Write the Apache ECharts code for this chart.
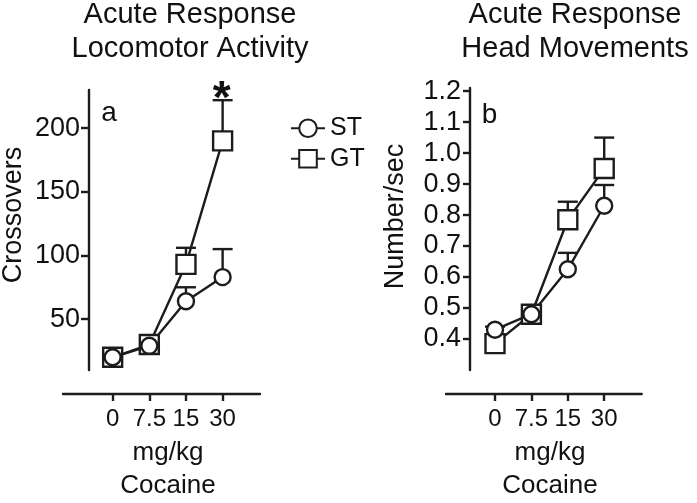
<!DOCTYPE html>
<html>
<head>
<meta charset="utf-8">
<script src="https://cdn.jsdelivr.net/npm/echarts@6/dist/echarts.min.js"></script>
<style>
html,body{margin:0;padding:0;background:#fff;}
#chart{width:697px;height:503px;}
</style>
</head>
<body>
<div id="chart"></div>
<script>
// ---- data ----
var doseLabels = ['0', '7.5', '15', '30'];
var leftST = [20, 29, 64, 83];
var leftST_sem = [3, 3, 11, 22];
var leftGT = [20, 30, 93, 190];
var leftGT_sem = [3, 3, 13, 32];
var rightST = [0.43, 0.48, 0.625, 0.83];
var rightST_sem = [0.01, 0.01, 0.053, 0.067];
var rightGT = [0.385, 0.48, 0.785, 0.95];
var rightGT_sem = [0.01, 0.01, 0.058, 0.10];
var leftYTicks = [50, 100, 150, 200];
var rightYTicks = [0.4, 0.5, 0.6, 0.7, 0.8, 0.9, 1.0, 1.1, 1.2];
var xTickIdx = [0, 1, 2, 3];

var INK = '#1c1c1c';
var FONT = "'Liberation Sans', Arial, Helvetica, sans-serif";
var LW = 2.4;

function pts(vals) { return vals.map(function (v, i) { return [i, v]; }); }
function errPts(vals, sem) { return vals.map(function (v, i) { return [i, v, v + sem[i]]; }); }

function errorRender(params, api) {
  var x = api.value(0), y = api.value(1), t = api.value(2);
  var p0 = api.coord([x, y]);
  var p1 = api.coord([x, t]);
  var hw = 10;
  return {
    type: 'group',
    children: [
      { type: 'line', shape: { x1: p0[0], y1: p0[1], x2: p1[0], y2: p1[1] }, style: { stroke: INK, lineWidth: LW } },
      { type: 'line', shape: { x1: p1[0] - hw, y1: p1[1], x2: p1[0] + hw, y2: p1[1] }, style: { stroke: INK, lineWidth: LW } }
    ]
  };
}

function lineSeries(name, sym, size, vals, idx) {
  return {
    type: 'line', name: name, xAxisIndex: idx, yAxisIndex: idx,
    data: pts(vals), symbol: sym, symbolSize: size, showSymbol: true,
    lineStyle: { color: INK, width: LW },
    itemStyle: { color: '#fff', borderColor: INK, borderWidth: LW },
    emphasis: { disabled: true }, z: 3
  };
}
function errSeries(name, vals, sem, idx) {
  return {
    type: 'custom', name: name, xAxisIndex: idx, yAxisIndex: idx,
    data: errPts(vals, sem), renderItem: errorRender, z: 1, silent: true
  };
}

var xAxisCommon = function (gi, min, max) {
  return {
    type: 'value', gridIndex: gi, min: min, max: max, offset: 24,
    axisLine: { show: true, onZero: false, lineStyle: { color: INK, width: LW } },
    axisTick: { show: true, customValues: xTickIdx, length: 7, lineStyle: { color: INK, width: LW } },
    axisLabel: { show: true, customValues: xTickIdx, margin: 13, fontSize: 24, color: '#111', fontFamily: FONT,
      formatter: function (v) { return doseLabels[Math.round(v)]; } },
    splitLine: { show: false }
  };
};
var yAxisCommon = function (gi, min, max, ticks, off, tickLen, fmt) {
  return {
    type: 'value', gridIndex: gi, min: min, max: max, offset: off,
    axisLine: { show: true, onZero: false, lineStyle: { color: INK, width: LW } },
    axisTick: { show: true, customValues: ticks, length: tickLen, lineStyle: { color: INK, width: LW } },
    axisLabel: { show: true, customValues: ticks, margin: 9, fontSize: 27, color: '#111', fontFamily: FONT, formatter: fmt },
    splitLine: { show: false }
  };
};

function txt(text, x, y, size, opts) {
  opts = opts || {};
  return {
    type: 'text', x: x, y: y, rotation: opts.rotation || 0,
    style: { text: text, fill: '#111', font: (opts.bold ? 'bold ' : '') + size + 'px ' + FONT,
      align: 'center', verticalAlign: 'middle' }
  };
}

var option = {
  animation: false,
  backgroundColor: '#fff',
  grid: [
    { left: 63, top: 90, width: 197, height: 280, outerBoundsMode: 'none', containLabel: false },
    { left: 446, top: 88, width: 195.7, height: 282, outerBoundsMode: 'none', containLabel: false }
  ],
  xAxis: [xAxisCommon(0, -1.355, 4.02), xAxisCommon(1, -1.346, 4.03)],
  yAxis: [
    yAxisCommon(0, 10, 230, leftYTicks, -26, 8, function (v) { return String(Math.round(v)); }),
    yAxisCommon(1, 0.3, 1.21, rightYTicks, -24, 7, function (v) { return v.toFixed(1); })
  ],
  legend: {
    data: ['ST', 'GT'], orient: 'vertical', left: 285, top: 110.7,
    itemWidth: 34, itemHeight: 22, itemGap: 5.6,
    textStyle: { fontSize: 25, color: '#111', fontFamily: FONT, lineHeight: 22 },
    selectedMode: false
  },
  series: [
    errSeries('GTerr', leftGT, leftGT_sem, 0),
    errSeries('STerr', leftST, leftST_sem, 0),
    lineSeries('GT', 'rect', 19, leftGT, 0),
    lineSeries('ST', 'circle', 16, leftST, 0),
    errSeries('GTerr2', rightGT, rightGT_sem, 1),
    errSeries('STerr2', rightST, rightST_sem, 1),
    lineSeries('GT', 'rect', 19, rightGT, 1),
    lineSeries('ST', 'circle', 16, rightST, 1)
  ],
  graphic: [
    txt('Acute Response', 190, 15, 29),
    txt('Locomotor Activity', 190, 48.5, 29),
    txt('Acute Response', 575, 15, 29),
    txt('Head Movements', 575, 48.5, 29),
    txt('a', 109, 113.6, 28),
    txt('b', 489.5, 115.3, 28),
    txt('*', 221.7, 100, 46, { bold: true }),
    txt('Crossovers', 14, 215, 27, { rotation: Math.PI / 2 }),
    txt('Number/sec', 396, 216.5, 27, { rotation: Math.PI / 2 }),
    txt('mg/kg', 168, 453, 26),
    txt('Cocaine', 168, 486, 26),
    txt('mg/kg', 550, 453, 26),
    txt('Cocaine', 550, 486, 26)
  ]
};

var chart = echarts.init(document.getElementById('chart'), null, { renderer: 'canvas' });
chart.setOption(option);
</script>
</body>
</html>
